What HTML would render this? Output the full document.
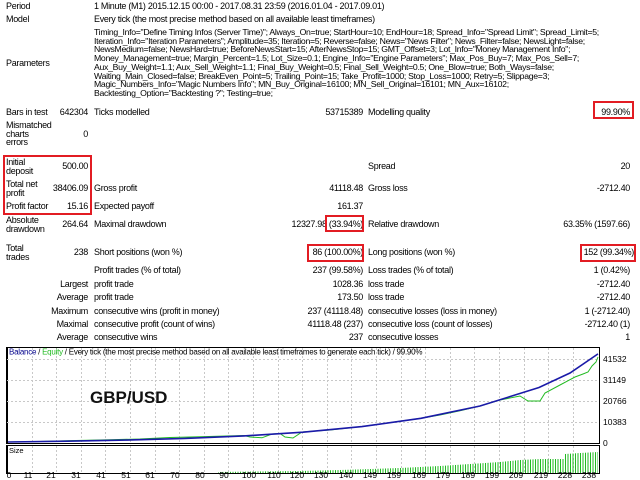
<!DOCTYPE html>
<html><head><meta charset="utf-8"><style>
body{margin:0;width:640px;height:480px;background:#fff;font-family:"Liberation Sans",sans-serif;font-size:9px;letter-spacing:-0.3px;color:#000;position:relative;overflow:hidden}
.t{position:absolute;white-space:nowrap;line-height:11px}
.r{text-align:right}
.box{position:absolute;border:2px solid #e21c23;box-sizing:border-box}
</style></head><body>
<div class="t" style="left:6px;top:1px">Period</div>
<div class="t" style="left:94px;top:1px">1 Minute (M1) 2015.12.15 00:00 - 2017.08.31 23:59 (2016.01.04 - 2017.09.01)</div>
<div class="t" style="left:6px;top:14px">Model</div>
<div class="t" style="left:94px;top:14px">Every tick (the most precise method based on all available least timeframes)</div>
<div class="t" style="left:6px;top:58px">Parameters</div>
<div class="t" style="left:94px;top:28px;line-height:8.7px;font-size:8.7px">Timing_Info="Define Timing Infos (Server Time)"; Always_On=true; StartHour=10; EndHour=18; Spread_Info="Spread Limit"; Spread_Limit=5;<br>Iteration_Info="Iteration Parameters"; Amplitude=35; Iteration=5; Reverse=false; News="News Filter"; News_Filter=false; NewsLight=false;<br>NewsMedium=false; NewsHard=true; BeforeNewsStart=15; AfterNewsStop=15; GMT_Offset=3; Lot_Info="Money Management Info";<br>Money_Management=true; Margin_Percent=1.5; Lot_Size=0.1; Engine_Info="Engine Parameters"; Max_Pos_Buy=7; Max_Pos_Sell=7;<br>Aux_Buy_Weight=1.1; Aux_Sell_Weight=1.1; Final_Buy_Weight=0.5; Final_Sell_Weight=0.5; One_Blow=true; Both_Ways=false;<br>Waiting_Main_Closed=false; BreakEven_Point=5; Trailing_Point=15; Take_Profit=1000; Stop_Loss=1000; Retry=5; Slippage=3;<br>Magic_Numbers_Info="Magic Numbers Info"; MN_Buy_Original=16100; MN_Sell_Original=16101; MN_Aux=16102;<br>Backtesting_Option="Backtesting ?"; Testing=true;</div>

<div class="t" style="left:6px;top:107px">Bars in test</div>
<div class="t r" style="right:552px;top:107px">642304</div>
<div class="t" style="left:94px;top:107px">Ticks modelled</div>
<div class="t r" style="right:277px;top:107px">53715389</div>
<div class="t" style="left:368px;top:107px">Modelling quality</div>
<div class="t r" style="right:10px;top:107px">99.90%</div>
<div class="t" style="left:6px;top:121px;line-height:8.6px">Mismatched<br>charts<br>errors</div>
<div class="t r" style="right:552px;top:129px">0</div>

<div class="t" style="left:6px;top:158px;line-height:8.6px">Initial<br>deposit</div>
<div class="t r" style="right:552px;top:161px">500.00</div>
<div class="t" style="left:368px;top:161px">Spread</div>
<div class="t r" style="right:10px;top:161px">20</div>
<div class="t" style="left:6px;top:180px;line-height:8.6px">Total net<br>profit</div>
<div class="t r" style="right:552px;top:183px">38406.09</div>
<div class="t" style="left:94px;top:183px">Gross profit</div>
<div class="t r" style="right:277px;top:183px">41118.48</div>
<div class="t" style="left:368px;top:183px">Gross loss</div>
<div class="t r" style="right:10px;top:183px">-2712.40</div>
<div class="t" style="left:6px;top:201px">Profit factor</div>
<div class="t r" style="right:552px;top:201px">15.16</div>
<div class="t" style="left:94px;top:201px">Expected payoff</div>
<div class="t r" style="right:277px;top:201px">161.37</div>
<div class="t" style="left:6px;top:216px;line-height:8.6px">Absolute<br>drawdown</div>
<div class="t r" style="right:552px;top:219px">264.64</div>
<div class="t" style="left:94px;top:219px">Maximal drawdown</div>
<div class="t r" style="right:277px;top:219px">12327.98 (33.94%)</div>
<div class="t" style="left:368px;top:219px">Relative drawdown</div>
<div class="t r" style="right:10px;top:219px">63.35% (1597.66)</div>
<div class="t" style="left:6px;top:244px;line-height:8.6px">Total<br>trades</div>
<div class="t r" style="right:552px;top:247px">238</div>
<div class="t" style="left:94px;top:247px">Short positions (won %)</div>
<div class="t r" style="right:277px;top:247px">86 (100.00%)</div>
<div class="t" style="left:368px;top:247px">Long positions (won %)</div>
<div class="t r" style="right:6px;top:247px">152 (99.34%)</div>
<div class="t" style="left:94px;top:265px">Profit trades (% of total)</div>
<div class="t r" style="right:277px;top:265px">237 (99.58%)</div>
<div class="t" style="left:368px;top:265px">Loss trades (% of total)</div>
<div class="t r" style="right:10px;top:265px">1 (0.42%)</div>
<div class="t r" style="right:552px;top:279px">Largest</div>
<div class="t" style="left:94px;top:279px">profit trade</div>
<div class="t r" style="right:277px;top:279px">1028.36</div>
<div class="t" style="left:368px;top:279px">loss trade</div>
<div class="t r" style="right:10px;top:279px">-2712.40</div>
<div class="t r" style="right:552px;top:292px">Average</div>
<div class="t" style="left:94px;top:292px">profit trade</div>
<div class="t r" style="right:277px;top:292px">173.50</div>
<div class="t" style="left:368px;top:292px">loss trade</div>
<div class="t r" style="right:10px;top:292px">-2712.40</div>
<div class="t r" style="right:552px;top:306px">Maximum</div>
<div class="t" style="left:94px;top:306px">consecutive wins (profit in money)</div>
<div class="t r" style="right:277px;top:306px">237 (41118.48)</div>
<div class="t" style="left:368px;top:306px">consecutive losses (loss in money)</div>
<div class="t r" style="right:10px;top:306px">1 (-2712.40)</div>
<div class="t r" style="right:552px;top:319px">Maximal</div>
<div class="t" style="left:94px;top:319px">consecutive profit (count of wins)</div>
<div class="t r" style="right:277px;top:319px">41118.48 (237)</div>
<div class="t" style="left:368px;top:319px">consecutive loss (count of losses)</div>
<div class="t r" style="right:10px;top:319px">-2712.40 (1)</div>
<div class="t r" style="right:552px;top:332px">Average</div>
<div class="t" style="left:94px;top:332px">consecutive wins</div>
<div class="t r" style="right:277px;top:332px">237</div>
<div class="t" style="left:368px;top:332px">consecutive losses</div>
<div class="t r" style="right:10px;top:332px">1</div>

<div class="box" style="left:3px;top:155px;width:89px;height:60px"></div>
<div class="box" style="left:593px;top:101px;width:41px;height:18px"></div>
<div class="box" style="left:325px;top:215px;width:39px;height:17px"></div>
<div class="box" style="left:307px;top:244px;width:57px;height:18px"></div>
<div class="box" style="left:580px;top:244px;width:56px;height:18px"></div>

<svg style="position:absolute;left:0;top:0;letter-spacing:0" width="640" height="480" font-family="Liberation Sans,sans-serif">
<defs><pattern id="bars" width="2.5" height="40" patternUnits="userSpaceOnUse"><rect x="0" y="0" width="1" height="40" fill="#22bb22"/></pattern></defs>
<rect x="6.5" y="347.5" width="593" height="96" fill="#fff" stroke="#000"/>
<line x1="7" y1="347" x2="7" y2="444" stroke="#000" stroke-width="2"/>
<g stroke="#c8c8c8" stroke-dasharray="2,2" stroke-width="1">
<path d="M32.5 348V443M56.5 348V443M81.5 348V443M105.5 348V443M130.5 348V443M155.5 348V443M179.5 348V443M204.5 348V443M228.5 348V443M253.5 348V443M278.5 348V443M302.5 348V443M327.5 348V443M351.5 348V443M376.5 348V443M401.5 348V443M425.5 348V443M450.5 348V443M474.5 348V443M499.5 348V443M524.5 348V443M548.5 348V443M573.5 348V443"/>
<path d="M7 359.5H599M7 380.5H599M7 401.5H599M7 422.5H599"/>
<path d="M32.5 446V473M56.5 446V473M81.5 446V473M105.5 446V473M130.5 446V473M155.5 446V473M179.5 446V473M204.5 446V473M228.5 446V473M253.5 446V473M278.5 446V473M302.5 446V473M327.5 446V473M351.5 446V473M376.5 446V473M401.5 446V473M425.5 446V473M450.5 446V473M474.5 446V473M499.5 446V473M524.5 446V473M548.5 446V473M573.5 446V473"/>
</g>
<text x="9" y="354.5" font-size="8" letter-spacing="-0.25"><tspan fill="#00008b">Balance</tspan> / <tspan fill="#22bb22">Equity</tspan> / Every tick (the most precise method based on all available least timeframes to generate each tick) / 99.90%</text>
<text x="90" y="403" font-size="17" font-weight="bold" fill="#111">GBP/USD</text>
<polyline fill="none" stroke="#22bb22" stroke-width="1" points="8,442 40,441.5 70,440.6 100,440 140,439 170,437.5 200,436.8 244,435.5 250,437 262,437.8 272,434 280,433.5 285,437 293,438 302,432 330,430 362,426.5 421,418.3 440,415 460,410.8 480,406 500,400 520,396 528,401 540,401 545,393 560,385 575,377 583,374 588,372 592,366 596,362 598,357"/>
<polyline fill="none" stroke="#1a1aa8" stroke-width="1.6" points="8,442 67,441.2 126,440.1 185,438.4 244,435.9 303,432.2 362,426.6 421,418.3 480,406 539,387.5 570,373 598,353.9"/>
<g font-size="8.5">
<text x="603" y="362">41532</text><text x="603" y="383">31149</text><text x="603" y="404">20766</text><text x="603" y="425">10383</text><text x="603" y="446">0</text>
</g>
<rect x="6.5" y="445.5" width="593" height="28" fill="none" stroke="#000"/>
<line x1="7" y1="445" x2="7" y2="474" stroke="#000" stroke-width="2"/>
<text x="9" y="453" font-size="7.5">Size</text>
<polygon fill="url(#bars)" points="218,473 218,472 300,471 340,470 400,468 440,466 470,464 500,462 520,460 540,459 565,459 565,454 580,453 598,452 598,473"/>
<g font-size="8.5" text-anchor="middle">
<text x="9" y="478">0</text><text x="28" y="478">11</text><text x="51" y="478">21</text><text x="76" y="478">31</text><text x="101" y="478">41</text><text x="126" y="478">51</text><text x="150" y="478">61</text><text x="175" y="478">70</text><text x="200" y="478">80</text><text x="224" y="478">90</text><text x="249" y="478">100</text><text x="274" y="478">110</text><text x="297" y="478">120</text><text x="321" y="478">130</text><text x="346" y="478">140</text><text x="370" y="478">149</text><text x="394" y="478">159</text><text x="419" y="478">169</text><text x="443" y="478">179</text><text x="468" y="478">189</text><text x="492" y="478">199</text><text x="516" y="478">209</text><text x="541" y="478">219</text><text x="565" y="478">228</text><text x="589" y="478">238</text>
</g>
</svg>
</body></html>
